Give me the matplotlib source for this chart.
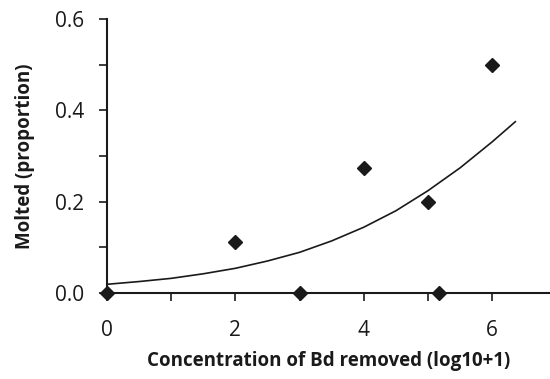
import numpy as np
import matplotlib
matplotlib.use('Agg')
import matplotlib.pyplot as plt
from matplotlib.ticker import MultipleLocator, FormatStrFormatter

plt.rcParams['font.family'] = ['Open Sans', 'DejaVu Sans']

# observed proportions
conc = [0, 2, 3, 4, 5, 5.17, 6]
molted = [0, 0.111, 0, 0.273, 0.2, 0, 0.5]

# fitted curve
fit_x = [0, 0.5, 1, 1.5, 2, 2.5, 3, 3.5, 4, 4.5, 5, 5.5, 6, 6.36]
fit_y = [0.019, 0.025, 0.032, 0.042, 0.054, 0.07, 0.089, 0.114, 0.144,
         0.18, 0.224, 0.274, 0.331, 0.375]

fig = plt.figure(figsize=(5.5, 3.79), dpi=100)
ax = fig.add_axes([0.1945, 0.227, 0.8055, 0.723])

ink = '#1a1a1a'
ax.plot(fit_x, fit_y, color=ink, lw=1.2)
ax.plot(conc, molted, 'D', color=ink, markersize=7, clip_on=False, zorder=5)

ax.set_xlim(0, 6.9)
ax.set_ylim(0, 0.6)

ax.xaxis.set_major_locator(MultipleLocator(2))
ax.xaxis.set_minor_locator(MultipleLocator(1))
ax.yaxis.set_major_locator(MultipleLocator(0.2))
ax.yaxis.set_minor_locator(MultipleLocator(0.1))
ax.yaxis.set_major_formatter(FormatStrFormatter('%.1f'))

for s in ['top', 'right']:
    ax.spines[s].set_visible(False)
for s in ['left', 'bottom']:
    ax.spines[s].set_linewidth(1.5)
    ax.spines[s].set_color(ink)

ax.tick_params(which='both', direction='out', length=5.5, width=1.2, color=ink)
ax.tick_params(which='major', labelsize=15, labelcolor=ink)
ax.tick_params(axis='x', which='major', pad=14)
ax.tick_params(axis='y', which='major', pad=11)

ax.set_xlabel('Concentration of Bd removed (log10+1)', fontsize=13.5,
              fontweight='bold', color=ink, labelpad=7)
ax.set_ylabel('Molted (proportion)', fontsize=13.5, fontweight='bold',
              color=ink, labelpad=14)

fig.savefig('out.png', dpi=100)
